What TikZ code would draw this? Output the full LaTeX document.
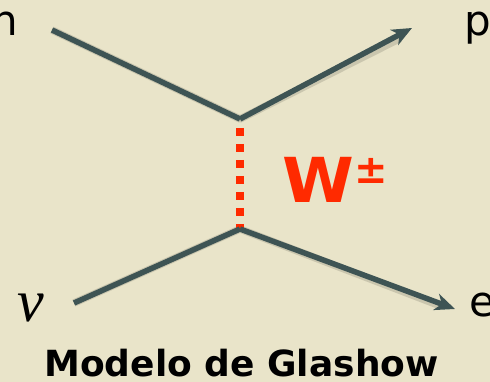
\documentclass[tikz,border=0pt]{standalone}
\usepackage{fontspec}
\setmainfont{DejaVu Sans}
\newfontfamily\nufont{Liberation Serif}
\usetikzlibrary{arrows.meta}
\definecolor{bgbeige}{RGB}{233,228,201}
\definecolor{lineslate}{RGB}{62,84,84}
\definecolor{wred}{RGB}{255,42,0}
\tikzset{
  fermion/.style={draw=lineslate, line width=5.5pt, line cap=butt, line join=miter},
  fermionarrow/.style={fermion, -{Stealth[length=20pt,width=17pt,inset=6pt]}},
  shadowline/.style={draw=black, opacity=0.13, line width=7.5pt, line join=round},
  boson/.style={draw=wred, line width=8pt, dash pattern=on 8pt off 8pt},
  lbl/.style={inner sep=0pt, font=\fontsize{42}{42}\selectfont, text=black},
}
\begin{document}
\begin{tikzpicture}[x=1pt,y=-1pt]
\useasboundingbox (0,0) rectangle (490,382);
\fill[bgbeige] (0,0) rectangle (490,382);
% endpoints and vertices
\coordinate (nstart) at (52,30);
\coordinate (vtop) at (240,119);
\coordinate (pend) at (412,28);
\coordinate (nustart) at (74,303);
\coordinate (vbot) at (240,229);
\coordinate (eend) at (455,309);
% shadows
\begin{scope}[shift={(2,3)}]
\draw[shadowline] (nstart) -- (vtop) -- (398,35.5);
\draw[shadowline] (nustart) -- (vbot) -- (440,303.5);
\end{scope}
% boson
\draw[boson] (240,128) -- (240,232);
% fermion lines
\draw[fermion] (nstart) -- (vtop);
\draw[fermionarrow] (vtop) -- (pend);
\draw[fermion] (nustart) -- (vbot);
\draw[fermionarrow] (vbot) -- (eend);
% labels
\node[lbl, anchor=base east] (n) at (18,36) {n};
\node[lbl, anchor=base west] (p) at (464,36) {p};
\node[lbl, anchor=base west] (e) at (469,316) {e};
\node[inner sep=0pt, anchor=base west, font=\nufont\itshape\fontsize{60}{60}\selectfont] (nu) at (17,321) {ν};
\node[inner sep=0pt, anchor=base west, text=wred, font=\bfseries\fontsize{62}{62}\selectfont, xscale=1.05] (W) at (282,203) {W};
\node[inner sep=0pt, anchor=base west, text=wred, font=\bfseries\fontsize{40}{40}\selectfont] (pm) at (354,184) {±};
\node[inner sep=0pt, anchor=base, font=\bfseries\fontsize{36}{36}\selectfont] (title) at (241.5,376) {Modelo de Glashow};
\end{tikzpicture}
\end{document}
